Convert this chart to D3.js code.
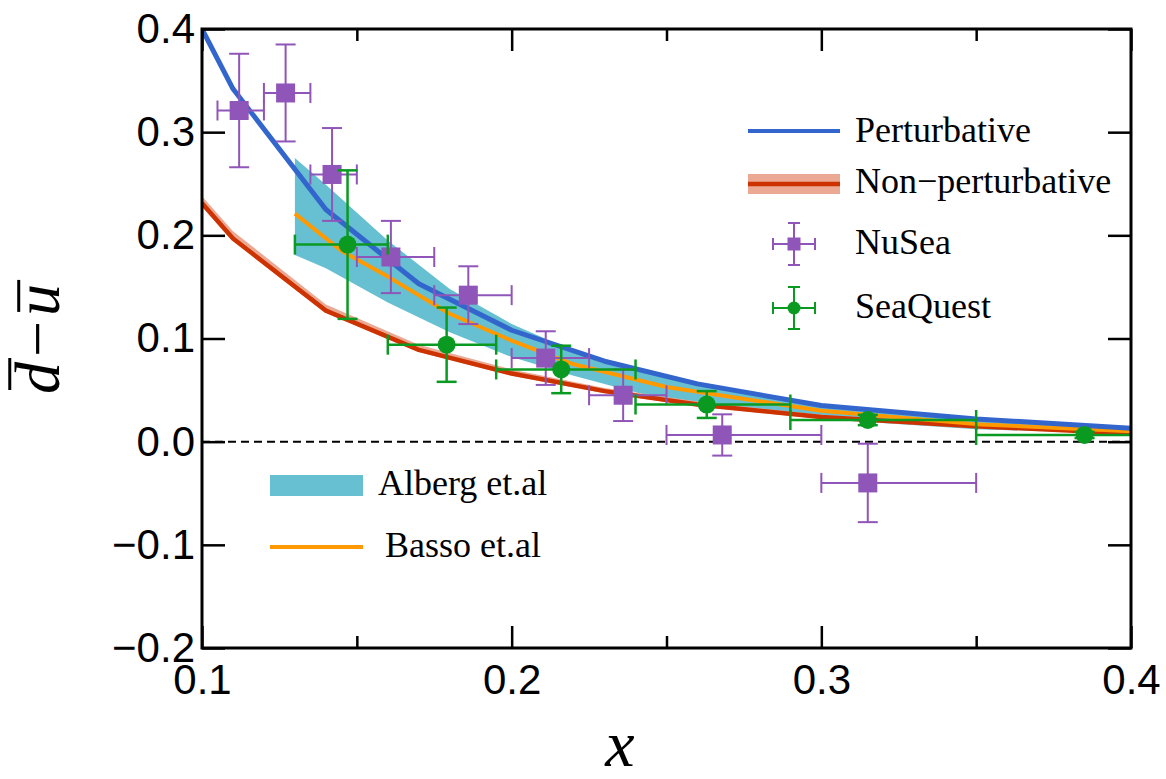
<!DOCTYPE html>
<html>
<head>
<meta charset="utf-8">
<script src="https://cdn.jsdelivr.net/npm/d3@7"></script>
<style>
  body { margin: 0; background: #fff; }
  svg { display: block; }
</style>
</head>
<body>
<div class="Graph"></div>
<script>
// ---- data ----
var curveX = [0.10, 0.11, 0.14, 0.17, 0.20, 0.23, 0.26, 0.30, 0.35, 0.40];
var perturbative = [0.400, 0.342, 0.225, 0.153, 0.108, 0.078, 0.056, 0.035, 0.022, 0.013];
var nonPert = [0.231, 0.197, 0.127, 0.089, 0.066, 0.049, 0.036, 0.024, 0.015, 0.008];
var nonPertHi = [0.238, 0.204, 0.133, 0.094, 0.070, 0.052, 0.039, 0.026, 0.017, 0.009];
var nonPertLo = [0.229, 0.195, 0.125, 0.087, 0.064, 0.047, 0.034, 0.022, 0.013, 0.007];

var bassoX = [0.13, 0.145, 0.16, 0.18, 0.20, 0.22, 0.25, 0.30, 0.35, 0.40];
var basso = [0.221, 0.185, 0.160, 0.124, 0.098, 0.075, 0.053, 0.030, 0.017, 0.010];

var albergX = [0.13, 0.14, 0.16, 0.18, 0.20, 0.22, 0.25, 0.30, 0.35, 0.40];
var albergHi = [0.275, 0.249, 0.195, 0.148, 0.114, 0.088, 0.062, 0.036, 0.021, 0.013];
var albergLo = [0.181, 0.168, 0.135, 0.106, 0.082, 0.064, 0.040, 0.022, 0.012, 0.008];

var nuX = [0.112, 0.127, 0.142, 0.161, 0.186, 0.211, 0.236, 0.268, 0.315];
var nuY = [0.321, 0.338, 0.259, 0.179, 0.142, 0.081, 0.045, 0.0065, -0.040];
var nuErr = [0.055, 0.047, 0.045, 0.035, 0.028, 0.026, 0.025, 0.020, 0.038];
var nuXlo = [0.105, 0.120, 0.135, 0.150, 0.175, 0.200, 0.225, 0.250, 0.300];
var nuXhi = [0.120, 0.135, 0.150, 0.175, 0.200, 0.225, 0.250, 0.300, 0.350];

var sqX = [0.147, 0.179, 0.216, 0.263, 0.315, 0.385];
var sqY = [0.191, 0.094, 0.070, 0.036, 0.021, 0.0065];
var sqErr = [0.072, 0.036, 0.023, 0.013, 0.005, 0.003];
var sqXlo = [0.130, 0.160, 0.195, 0.240, 0.290, 0.350];
var sqXhi = [0.160, 0.195, 0.240, 0.290, 0.350, 0.450];

var xMajor = [0.1, 0.2, 0.3, 0.4];
var xMinor = [0.15, 0.25, 0.35];
var yMajor = [-0.2, -0.1, 0.0, 0.1, 0.2, 0.3, 0.4];

// ---- layout ----
var W = 1166, H = 779;
var plotL = 202, plotR = 1131, plotT = 29, plotB = 648;

var colBlue = "#3366cc", colRed = "#cc3300", colSalmon = "#eba994",
    colOrange = "#ff9900", colTeal = "#66c0d2", colPurple = "#9055b8", colGreen = "#0a9a22";

var svg = d3.select(".Graph").append("svg")
    .attr("width", W).attr("height", H)
    .attr("viewBox", [0, 0, W, H]);

svg.append("rect").attr("width", W).attr("height", H).attr("fill", "#fff");

var x = d3.scaleLinear().domain([0.1, 0.4]).range([plotL, plotR]);
var y = d3.scaleLinear().domain([-0.2, 0.4]).range([plotB, plotT]);

svg.append("defs").append("clipPath").attr("id", "plotclip")
    .append("rect").attr("x", plotL).attr("y", plotT)
    .attr("width", plotR - plotL).attr("height", plotB - plotT);

var plot = svg.append("g").attr("clip-path", "url(#plotclip)");

// zero line
plot.append("line")
    .attr("x1", x(0.1)).attr("x2", x(0.4))
    .attr("y1", y(0)).attr("y2", y(0))
    .attr("stroke", "#000").attr("stroke-width", 2)
    .attr("stroke-dasharray", "8,5");

// Alberg band
var albergArea = d3.area()
    .x((d, i) => x(albergX[i]))
    .y0((d, i) => y(albergLo[i]))
    .y1((d, i) => y(albergHi[i]));
plot.append("path").datum(albergX).attr("d", albergArea).attr("fill", colTeal);

// non-perturbative band + line
var npArea = d3.area()
    .x((d, i) => x(curveX[i]))
    .y0((d, i) => y(nonPertLo[i]))
    .y1((d, i) => y(nonPertHi[i]));
plot.append("path").datum(curveX).attr("d", npArea).attr("fill", colSalmon);

function drawLine(xs, ys, col, w) {
    var ln = d3.line().x((d, i) => x(xs[i])).y((d, i) => y(ys[i]));
    plot.append("path").datum(xs).attr("d", ln)
        .attr("fill", "none").attr("stroke", col).attr("stroke-width", w)
        .attr("stroke-linejoin", "round");
}
drawLine(curveX, nonPert, colRed, 4.5);
drawLine(bassoX, basso, colOrange, 4);
drawLine(curveX, perturbative, colBlue, 5);

// error bars
function errBars(g, xs, ys, es, xlo, xhi, col, w, cap) {
    var pts = g.selectAll(null).data(xs).enter().append("g");
    pts.append("line")
        .attr("x1", (d, i) => x(xlo[i])).attr("x2", (d, i) => x(xhi[i]))
        .attr("y1", (d, i) => y(ys[i])).attr("y2", (d, i) => y(ys[i]))
        .attr("stroke", col).attr("stroke-width", w);
    pts.append("line")
        .attr("x1", (d, i) => x(xs[i])).attr("x2", (d, i) => x(xs[i]))
        .attr("y1", (d, i) => y(ys[i] - es[i])).attr("y2", (d, i) => y(ys[i] + es[i]))
        .attr("stroke", col).attr("stroke-width", w);
    [xlo, xhi].forEach(arr => {
        pts.append("line")
            .attr("x1", (d, i) => x(arr[i])).attr("x2", (d, i) => x(arr[i]))
            .attr("y1", (d, i) => y(ys[i]) - cap).attr("y2", (d, i) => y(ys[i]) + cap)
            .attr("stroke", col).attr("stroke-width", w);
    });
    [-1, 1].forEach(s => {
        pts.append("line")
            .attr("x1", (d, i) => x(xs[i]) - cap).attr("x2", (d, i) => x(xs[i]) + cap)
            .attr("y1", (d, i) => y(ys[i] + s * es[i])).attr("y2", (d, i) => y(ys[i] + s * es[i]))
            .attr("stroke", col).attr("stroke-width", w);
    });
    return pts;
}

var nu = errBars(plot, nuX, nuY, nuErr, nuXlo, nuXhi, colPurple, 2, 10);
nu.append("rect")
    .attr("x", (d, i) => x(nuX[i]) - 9.5).attr("y", (d, i) => y(nuY[i]) - 9.5)
    .attr("width", 19).attr("height", 19).attr("fill", colPurple);

var sq = errBars(plot, sqX, sqY, sqErr, sqXlo, sqXhi, colGreen, 2.5, 10);
sq.append("circle")
    .attr("cx", (d, i) => x(sqX[i])).attr("cy", (d, i) => y(sqY[i]))
    .attr("r", 9).attr("fill", colGreen);

// ---- axes (inward ticks) ----
function styleAxis(g) {
    g.select(".domain").remove();
    g.selectAll(".tick line").attr("stroke", "#000").attr("stroke-width", 2.5);
    g.selectAll(".tick text").attr("fill", "#000")
        .style("font-family", "'Liberation Sans', Arial, sans-serif")
        .style("font-size", "42px");
}
svg.append("g").attr("transform", "translate(0," + plotB + ")")
    .call(d3.axisBottom(x).tickValues(xMajor).tickSize(-22).tickPadding(16).tickFormat(d3.format(".1f")))
    .call(styleAxis);
svg.append("g").attr("transform", "translate(0," + plotB + ")")
    .call(d3.axisBottom(x).tickValues(xMinor).tickSize(-12).tickFormat(""))
    .call(styleAxis);
svg.append("g").attr("transform", "translate(0," + plotT + ")")
    .call(d3.axisTop(x).tickValues(xMajor).tickSize(-22).tickFormat(""))
    .call(styleAxis);
svg.append("g").attr("transform", "translate(0," + plotT + ")")
    .call(d3.axisTop(x).tickValues(xMinor).tickSize(-12).tickFormat(""))
    .call(styleAxis);
svg.append("g").attr("transform", "translate(" + plotL + ",0)")
    .call(d3.axisLeft(y).tickValues(yMajor).tickSize(-23).tickPadding(7).tickFormat(d3.format(".1f")))
    .call(styleAxis);
svg.append("g").attr("transform", "translate(" + plotR + ",0)")
    .call(d3.axisRight(y).tickValues(yMajor).tickSize(-23).tickFormat(""))
    .call(styleAxis);

svg.append("rect")
    .attr("x", plotL).attr("y", plotT)
    .attr("width", plotR - plotL).attr("height", plotB - plotT)
    .attr("fill", "none").attr("stroke", "#000").attr("stroke-width", 3);

// ---- axis titles ----
var serif = "'Liberation Serif', 'Times New Roman', serif";
svg.append("text")
    .attr("x", 620).attr("y", 766)
    .attr("text-anchor", "middle")
    .style("font-family", serif).style("font-style", "italic").style("font-size", "66px")
    .text("x");

var yl = svg.append("g").attr("transform", "translate(59,322) rotate(-90)");
var parts = [["d", true, -0.66], ["\u2212", false, 0], ["u", true, -0.52]];
var fs = 64, pos = -72;
parts.forEach(p => {
    var t = yl.append("text")
        .attr("x", pos).attr("y", 0)
        .style("font-family", serif).style("font-style", p[0] === "\u2212" ? "normal" : "italic")
        .style("font-size", fs + "px")
        .text(p[0]);
    var w = t.node().getComputedTextLength();
    if (p[1]) {
        yl.append("line")
            .attr("x1", pos + 4).attr("x2", pos + w + 4)
            .attr("y1", p[2] * fs - 7).attr("y2", p[2] * fs - 7)
            .attr("stroke", "#000").attr("stroke-width", 3);
    }
    pos += w + 5;
});

// ---- legends ----
var lg = svg.append("g");
function legText(tx, ty, s) {
    lg.append("text").attr("x", tx).attr("y", ty)
        .style("font-family", serif).style("font-size", "36px").attr("fill", "#000")
        .text(s);
}
lg.append("line").attr("x1", 748).attr("x2", 840).attr("y1", 131).attr("y2", 131)
    .attr("stroke", colBlue).attr("stroke-width", 4);
legText(855, 142, "Perturbative");

lg.append("rect").attr("x", 748).attr("y", 174).attr("width", 92).attr("height", 20)
    .attr("fill", colSalmon);
lg.append("line").attr("x1", 748).attr("x2", 840).attr("y1", 184).attr("y2", 184)
    .attr("stroke", colRed).attr("stroke-width", 4.5);
legText(855, 193, "Non\u2212perturbative");

function legMarker(cx, cy, col, shape) {
    var g = lg.append("g").attr("stroke", col).attr("stroke-width", 2);
    g.append("line").attr("x1", cx - 21).attr("x2", cx + 21).attr("y1", cy).attr("y2", cy);
    g.append("line").attr("x1", cx).attr("x2", cx).attr("y1", cy - 21).attr("y2", cy + 21);
    g.append("line").attr("x1", cx - 21).attr("x2", cx - 21).attr("y1", cy - 6).attr("y2", cy + 6);
    g.append("line").attr("x1", cx + 21).attr("x2", cx + 21).attr("y1", cy - 6).attr("y2", cy + 6);
    g.append("line").attr("x1", cx - 6).attr("x2", cx + 6).attr("y1", cy - 21).attr("y2", cy - 21);
    g.append("line").attr("x1", cx - 6).attr("x2", cx + 6).attr("y1", cy + 21).attr("y2", cy + 21);
    if (shape === "square")
        lg.append("rect").attr("x", cx - 6.5).attr("y", cy - 6.5).attr("width", 13).attr("height", 13).attr("fill", col);
    else
        lg.append("circle").attr("cx", cx).attr("cy", cy).attr("r", 6.5).attr("fill", col);
}
legMarker(794, 244, colPurple, "square");
legText(855, 254, "NuSea");
legMarker(794, 308, colGreen, "circle");
legText(855, 318, "SeaQuest");

lg.append("rect").attr("x", 270).attr("y", 475).attr("width", 93).attr("height", 21)
    .attr("fill", colTeal);
legText(378, 495, "Alberg et.al");
lg.append("line").attr("x1", 270).attr("x2", 363).attr("y1", 547).attr("y2", 547)
    .attr("stroke", colOrange).attr("stroke-width", 4);
legText(385, 557, "Basso et.al");
</script>
</body>
</html>
